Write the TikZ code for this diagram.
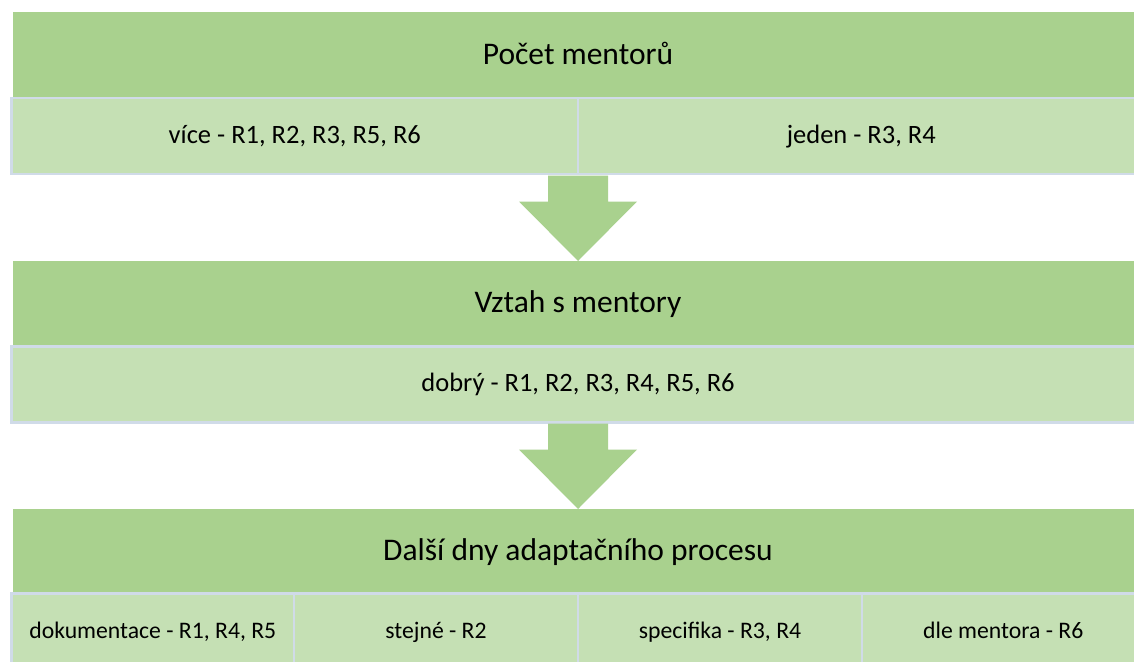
\documentclass[tikz,border=0pt]{standalone}
\usepackage{fontspec}
\setmainfont{Carlito}
\usetikzlibrary{calc}
\definecolor{hdr}{HTML}{A9D18E}
\definecolor{subc}{HTML}{C5E0B4}
\definecolor{bord}{HTML}{D0DBE8}
\tikzset{
  hdrbox/.style={fill=hdr, draw=none, inner sep=0pt, outer sep=0pt, minimum width=1130pt,
    text height=18pt, text depth=0pt, font=\fontsize{31.5}{36}\selectfont},
  subbox/.style={fill=subc, draw=bord, line width=2.5pt, inner sep=0pt, outer sep=0pt,
    minimum height=76pt, text height=14pt, text depth=0pt, font=\fontsize{26.5}{30}\selectfont},
  botbox/.style={subbox, text height=12.6pt, font=\fontsize{23.7}{28}\selectfont},
  flowarrow/.style={fill=hdr, draw=none}
}
\newcommand{\downarrowshape}[2]{%
  \fill[flowarrow] ($(#1)+(-30,0)$) -- ($(#1)+(-30,26)$) -- ($(#1)+(-59,26)$) -- (#2)
    -- ($(#1)+(59,26)$) -- ($(#1)+(30,26)$) -- ($(#1)+(30,0)$) -- cycle;}
\begin{document}
\begin{tikzpicture}[x=1pt,y=-1pt]
\clip (0,0) rectangle (1134,661);
\fill[white] (0,0) rectangle (1134,661);

% level 1
\node[hdrbox, minimum height=86pt] (h1) at (578,55) {Počet mentorů};
\node[subbox, minimum width=566.5pt] (s1a) at (294.75,136) {více - R1, R2, R3, R5, R6};
\node[subbox, minimum width=566.5pt] (s1b) at (861.25,136) {jeden - R3, R4};

% level 2
\node[hdrbox, minimum height=85pt] (h2) at (578,303.5) {Vztah s mentory};
\node[subbox, minimum width=1133pt] (s2) at (578,384.5) {dobrý - R1, R2, R3, R4, R5, R6};

% level 3
\node[hdrbox, minimum height=84pt] (h3) at (578,551) {Další dny adaptačního procesu};
\node[botbox, minimum width=282.5pt, minimum height=76.5pt] (s3a) at (152.75,631.75) {dokumentace - R1, R4, R5};
\node[botbox, minimum width=284pt, minimum height=76.5pt] (s3b) at (436,631.75) {stejné - R2};
\node[botbox, minimum width=284pt, minimum height=76.5pt] (s3c) at (720,631.75) {specifika - R3, R4};
\node[botbox, minimum width=282.5pt, minimum height=76.5pt] (s3d) at (1003.25,631.75) {dle mentora - R6};

% arrows
\coordinate (a1top) at (578,175.5);
\coordinate (a1tip) at (578,261);
\downarrowshape{a1top}{a1tip}
\coordinate (a2top) at (578,423.5);
\coordinate (a2tip) at (578,509);
\downarrowshape{a2top}{a2tip}
\end{tikzpicture}
\end{document}
